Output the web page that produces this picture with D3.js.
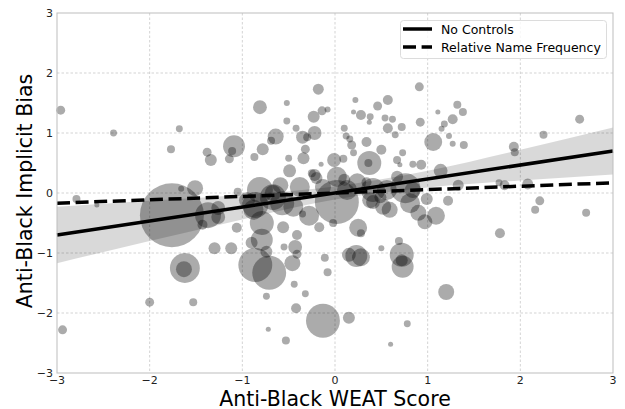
<!DOCTYPE html>
<html>
<head>
<meta charset="utf-8">
<script src="https://cdn.jsdelivr.net/npm/d3@7"></script>
<style>
  html, body { margin: 0; padding: 0; background: #fff; }
  svg { display: block; font-family: "DejaVu Sans", sans-serif; }
</style>
</head>
<body>
<svg id="chart" width="625" height="409"></svg>
<script>
// ── Data ──────────────────────────────────────────────────────────────────────
const TICKS = [-3, -2, -1, 0, 1, 2, 3];

// one entry per bubble: WEAT score, implicit bias, weight (bubble area)
const weatX = [
  -2.96, -2.39, -1.68, -0.18, -0.81, -0.52, -0.52, -0.42, -0.23, -0.14,
  -0.08, -0.22, -0.64, -1.09, 0.22, 0.10, 0.20, 0.28, 0.38, 0.46,
  0.57, 0.54, 0.62, 0.37, 0.57, 0.72, 0.65, 0.91, 0.92, 1.11,
  1.32, 1.38, 1.27, 1.18, 1.15, 1.23, 1.06, 2.64, 2.25, -0.69,
  -0.78, -0.87, -1.14, -1.38, -1.34, -0.35, -0.30, -0.32, -0.34, -0.50,
  -0.15, -0.49, -0.01, 0.09, 0.12, 0.16, 0.18, 0.20, 0.34, 0.37,
  0.36, 0.50, 0.67, 0.73, 0.70, 0.84, -1.11, -2.79, -2.57, -1.66,
  -1.77, 1.27, 1.39, 0.93, 1.14, 1.33, 0.99, 1.22, 1.09, 0.97,
  1.78, 1.93, 1.94, 1.77, 1.83, 2.08, 2.21, 2.16, 2.71, 1.20,
  0.60, -2.94, -2.00, -1.53, -1.76, -1.37, -1.43, -1.26, -1.06, -1.30,
  -1.12, -1.62, -1.63, -0.86, -0.79, -0.79, -0.86, -0.71, -0.90, -0.74,
  -0.56, -0.57, -0.41, -0.43, -0.41, -0.46, -0.55, -0.28, -0.35, -0.17,
  -0.02, -0.11, -0.08, -0.44, -0.32, -0.74, -0.42, -0.13, 0.15, -0.72,
  -0.53, 0.02, 0.25, 0.28, 0.23, 0.28, 0.15, 0.50, 0.69, 0.72,
  0.73, 0.72, 0.78, 0.90, 0.52, 0.41, -1.26, -0.95, -0.88, -0.67,
  -0.45, 0.38, 0.59, 0.81, -0.22, -0.38, -0.81, -0.67, -1.05, 0.02,
  -0.13, -1.51, 0.24, 0.41, 0.56, 0.76, 0.84, 0.34, 0.49, 0.67,
  -0.25, -0.20, 0.10, -0.59, 0.13
];
const biasY = [
  1.38, 1.00, 1.07, 1.73, 1.43, 1.50, 1.20, 1.08, 1.27, 1.37,
  1.39, 1.00, 0.94, 0.78, 1.55, 1.08, 1.35, 1.30, 1.27, 1.45,
  1.55, 1.25, 1.23, 1.18, 1.08, 1.10, 0.97, 1.77, 1.18, 1.35,
  1.47, 1.35, 1.23, 1.15, 1.07, 0.95, 0.85, 1.23, 0.97, 0.87,
  0.73, 0.60, 0.57, 0.68, 0.55, 0.93, 0.93, 0.73, 0.58, 0.58,
  0.48, 0.37, 0.55, 0.57, 0.95, 0.90, 0.80, 0.67, 0.85, 0.50,
  0.50, 0.72, 0.55, 0.67, 0.47, 0.48, 0.70, -0.10, -0.20, 0.07,
  0.73, 0.82, 0.80, 0.47, 0.37, 0.13, -0.10, -0.13, -0.38, -0.48,
  -0.67, 0.77, 0.68, 0.17, 0.13, 0.15, -0.13, -0.28, -0.33, -1.65,
  -2.52, -2.28, -1.82, -1.82, -0.37, -0.37, -0.53, -0.40, -0.58, -0.92,
  -0.92, -1.25, -1.27, -0.20, -0.50, -0.78, -1.20, -1.33, -0.83, -0.98,
  -0.57, -0.17, -0.70, -0.90, -1.02, -1.17, -0.90, -0.38, -0.35, -0.57,
  -0.50, -1.08, -1.32, -1.52, -1.68, -1.72, -1.92, -2.13, -2.08, -2.27,
  -2.46, -0.15, -0.58, -0.67, -1.05, -1.07, -1.03, -0.92, -0.80, -1.03,
  -1.23, -1.12, -2.18, -0.33, -0.23, -0.15, -0.25, -0.12, -0.28, -0.07,
  -0.23, -0.12, -0.28, -0.17, 0.30, 0.10, 0.05, 0.00, 0.02, 0.27,
  0.10, 0.08, 0.18, 0.05, 0.05, 0.08, 0.05, 0.18, -0.07, 0.27,
  0.33, 0.25, 0.22, 0.13, 0.05
];
const weight = [
  5, 3, 3, 7.5, 12, 2.25, 3, 3, 9, 5,
  2.25, 12, 16, 30, 2.25, 3, 1.6, 6.25, 3, 5,
  6.25, 3, 3, 1.6, 6.25, 4, 3, 5, 5, 1.6,
  4, 4, 6.25, 3, 2.25, 2.25, 20, 5, 4, 4,
  9, 4, 5, 5, 9, 10.5, 4, 5, 9, 3,
  1.6, 10.5, 12, 4, 3, 3, 5, 3, 6.25, 36,
  4, 6.25, 4, 3, 1.6, 3, 4, 4, 1.6, 2.25,
  4, 2.25, 4, 6.25, 12, 7.5, 9, 6.25, 20, 14,
  6.25, 6.25, 4, 3, 6.25, 7.5, 5, 4, 4, 16,
  1.6, 5, 5, 4, 256, 42, 6.25, 12, 6.25, 9,
  9, 56, 16, 42, 36, 30, 72, 72, 9, 9,
  9, 36, 6.25, 12, 5, 16, 3, 25, 3, 6.25,
  4, 4, 4, 3, 3, 3, 6.25, 72, 9, 1.6,
  4, 121, 20, 4, 30, 20, 12, 2.25, 4, 36,
  30, 9, 3, 16, 16, 12, 12, 16, 25, 42,
  25, 16, 16, 25, 9, 25, 42, 16, 4, 25,
  16, 16, 20, 36, 25, 56, 16, 6.25, 9, 9,
  4, 9, 9, 16, 25
];

// fitted lines (value at x = -3 and x = 3)
const fitNoControls = [-0.70, 0.70];
const fitNameFreq   = [-0.17, 0.17];

// confidence band of the "No Controls" fit
const bandX  = [-3, -2, -1, 0, 1, 2, 3];
const bandLo = [-1.17, -0.80, -0.44, -0.11, 0.09, 0.21, 0.31];
const bandHi = [-0.23, -0.13, -0.03, 0.11, 0.37, 0.72, 1.09];

const LEGEND = ['No Controls', 'Relative Name Frequency'];


// ── Setup ─────────────────────────────────────────────────────────────────────
const svg = d3.select('#chart');
const L = 57, R = 613, T = 13, B = 373;

const x = d3.scaleLinear().domain([-3, 3]).range([L, R]);
const y = d3.scaleLinear().domain([-3, 3]).range([B, T]);
const r = d3.scaleSqrt().domain([0, 256]).range([0, 32]);

// Grid
const grid = svg.append('g')
    .attr('stroke', '#c8c8c8')
    .attr('stroke-width', 0.8)
    .attr('stroke-dasharray', '2.5,2');
grid.selectAll('line.gx')
    .data(TICKS.slice(1, -1))
    .join('line')
    .attr('x1', d => x(d)).attr('x2', d => x(d))
    .attr('y1', T).attr('y2', B);
grid.selectAll('line.gy')
    .data(TICKS.slice(1, -1))
    .join('line')
    .attr('class', 'gy')
    .attr('y1', d => y(d)).attr('y2', d => y(d))
    .attr('x1', L).attr('x2', R);

// Confidence band
const band = bandX.map((v, i) => ({ x: v, lo: bandLo[i], hi: bandHi[i] }));
svg.append('path')
    .datum(band)
    .attr('fill', '#000')
    .attr('fill-opacity', 0.15)
    .attr('d', d3.area()
        .curve(d3.curveMonotoneX)
        .x(d => x(d.x))
        .y0(d => y(d.lo))
        .y1(d => y(d.hi)));

// Bubbles (largest first so small ones stay visible)
const pts = weatX.map((v, i) => ({ x: v, y: biasY[i], w: weight[i] }))
    .sort((a, b) => b.w - a.w);
svg.append('g')
    .selectAll('circle')
    .data(pts)
    .join('circle')
    .attr('cx', d => x(d.x))
    .attr('cy', d => y(d.y))
    .attr('r',  d => r(d.w))
    .attr('fill', '#000')
    .attr('fill-opacity', 0.33);

// Fitted lines
svg.append('line')
    .attr('x1', x(-3)).attr('y1', y(fitNoControls[0]))
    .attr('x2', x(3)).attr('y2', y(fitNoControls[1]))
    .attr('stroke', '#000').attr('stroke-width', 3.5);
svg.append('line')
    .attr('x1', x(-3)).attr('y1', y(fitNameFreq[0]))
    .attr('x2', x(3)).attr('y2', y(fitNameFreq[1]))
    .attr('stroke', '#000').attr('stroke-width', 3.5)
    .attr('stroke-dasharray', '13,5.6');

// Frame
svg.append('rect')
    .attr('x', L).attr('y', T)
    .attr('width', R - L).attr('height', B - T)
    .attr('fill', 'none')
    .attr('stroke', '#bdbdbd')
    .attr('stroke-width', 1);

// Tick labels
const fmt = d => d < 0 ? '\u2212' + Math.abs(d) : String(d);
svg.append('g').selectAll('text')
    .data(TICKS)
    .join('text')
    .attr('x', d => x(d))
    .attr('y', B + 11)
    .attr('text-anchor', 'middle')
    .attr('font-size', 11)
    .attr('fill', '#222')
    .text(fmt);
svg.append('g').selectAll('text')
    .data(TICKS)
    .join('text')
    .attr('x', L - 4)
    .attr('y', d => y(d) + 4)
    .attr('text-anchor', 'end')
    .attr('font-size', 11)
    .attr('fill', '#222')
    .text(fmt);

// Axis titles
svg.append('text')
    .attr('x', (L + R) / 2)
    .attr('y', 405.5)
    .attr('text-anchor', 'middle')
    .attr('font-size', 20.5)
    .text('Anti-Black WEAT Score');
svg.append('text')
    .attr('transform', `translate(32,${(T + B) / 2 - 2}) rotate(-90)`)
    .attr('text-anchor', 'middle')
    .attr('font-size', 20.5)
    .text('Anti-Black Implicit Bias');

// Legend
const lg = svg.append('g');
lg.append('rect')
    .attr('x', 400.5).attr('y', 20.5)
    .attr('width', 206).attr('height', 38)
    .attr('rx', 3)
    .attr('fill', '#fff').attr('fill-opacity', 0.8)
    .attr('stroke', '#dcdcdc');
LEGEND.forEach((name, i) => {
    const yy = 29 + i * 18;
    lg.append('line')
        .attr('x1', 403).attr('x2', 432)
        .attr('y1', yy).attr('y2', yy)
        .attr('stroke', '#000').attr('stroke-width', 3.5)
        .attr('stroke-dasharray', i ? '13,5.6' : null);
    lg.append('text')
        .attr('x', 441).attr('y', yy + 4.5)
        .attr('font-size', 12.5)
        .text(name);
});
</script>
</body>
</html>
